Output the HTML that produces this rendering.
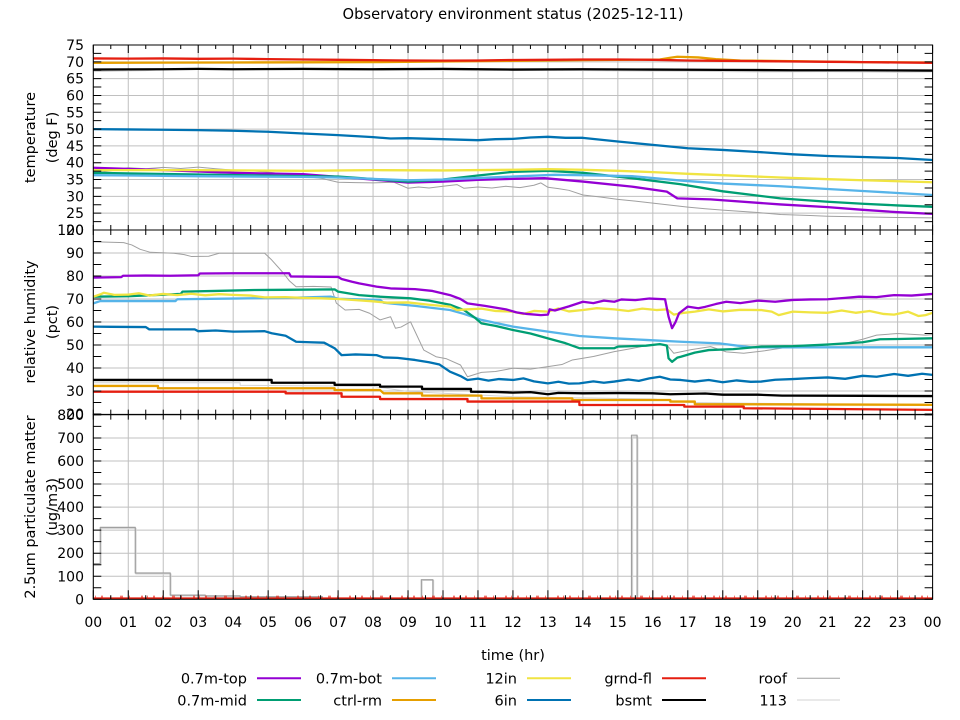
<!DOCTYPE html>
<html><head><meta charset="utf-8"><style>
html,body{margin:0;padding:0;background:#fff;}
svg{display:block;font-family:"DejaVu Sans","Liberation Sans",sans-serif;}
.s{fill:none;vector-effect:non-scaling-stroke;stroke-linejoin:round;stroke-width:2.3;}
.t{font-size:14px;fill:#000;}
.l{font-size:14.5px;fill:#000;}
</style></head><body>
<svg width="960" height="720" viewBox="0 0 960 720" xmlns="http://www.w3.org/2000/svg">
<rect width="960" height="720" fill="#fff"/>
<defs>
<clipPath id="c1"><rect x="93.3" y="45" width="839.3" height="185"/></clipPath>
<clipPath id="c2"><rect x="93.3" y="230" width="839.3" height="184.6"/></clipPath>
<clipPath id="c3"><rect x="93.3" y="414.6" width="839.3" height="184.7"/></clipPath>
</defs>

<!-- grid -->
<line x1="92.8" y1="322.15" x2="933.2" y2="322.15" stroke="#c0c0c0" stroke-width="554.3" stroke-dasharray="1 33.97"/>
<line x1="512.94" y1="44.5" x2="512.94" y2="230.6" stroke="#c0c0c0" stroke-width="839.3" stroke-dasharray="1 15.818"/>
<line x1="512.94" y1="229.5" x2="512.94" y2="414.6" stroke="#c0c0c0" stroke-width="839.3" stroke-dasharray="1 22"/>
<line x1="512.94" y1="414.4" x2="512.94" y2="599.9" stroke="#c0c0c0" stroke-width="839.3" stroke-dasharray="1 22.05"/>

<!-- temperature -->
<g clip-path="url(#c1)"><g transform="matrix(34.97 0 0 -3.3636 93.3 297.27)">
<polyline class="s" stroke="#d3d3d3" style="stroke-width:1" points="0,67.1 1.5,67.4 2.5,68 3.5,67.9 5,67.7 7,67.5 9,67.6 11,67.4 13,67.5 15,67.3 17,67.2 19,67 21,67.1 23,66.9 24,67"/>
<polyline class="s" stroke="#000" points="0,67.7 2,67.8 3,67.9 4,67.8 6,67.9 8,67.8 10,67.9 12,67.7 14,67.8 16,67.7 18,67.6 20,67.5 22,67.5 24,67.4"/>
<polyline class="s" stroke="#e69f00" points="0,69.7 2,69.75 4,69.8 6,69.85 8,69.9 10,70.1 12,70.3 14,70.5 16.2,70.7 16.5,71.2 16.7,71.5 17.3,71.3 17.8,70.8 18.5,70.4 20,70.2 22,69.9 24,69.8"/>
<polyline class="s" stroke="#e51e10" points="0,71 1,70.95 2,71 3,70.9 4,70.95 5,70.8 6,70.7 7,70.6 8,70.5 9,70.4 10,70.35 11,70.4 12,70.55 13,70.6 14,70.7 15,70.7 16,70.6 17,70.4 18,70.3 19,70.2 20,70.1 21,70 22,69.9 23,69.8 24,69.7"/>
<polyline class="s" stroke="#0072b2" points="0,50 1,49.9 2,49.8 3,49.7 4,49.5 5,49.2 6,48.7 7,48.2 8,47.6 8.5,47.2 9,47.3 10,47 11,46.7 11.5,47 12,47.1 12.5,47.5 13,47.7 13.5,47.4 14,47.4 15,46.3 16,45.3 17,44.3 18,43.8 19,43.2 20,42.5 21,42 22,41.7 23,41.4 23.5,41.1 24,40.8"/>
<polyline class="s" stroke="#a0a0a0" style="stroke-width:1" points="0,37 0.5,37.6 1,38.5 1.5,38.2 2,38.6 2.5,38.3 3,38.7 3.5,38.2 4,37.8 4.5,37.6 5,37.2 5.5,36.6 5.9,36.1 6.5,35.4 7,34.2 7.5,34.1 8,34 8.6,34.2 9,32.4 9.3,32.8 9.6,32.5 10,33 10.4,33.5 10.6,32.4 11,32.8 11.4,32.5 11.8,33 12.2,32.6 12.6,33.3 12.8,34 13,32.7 13.3,32.3 13.6,31.8 14,30.4 14.5,29.8 15,29.1 15.5,28.6 16,28 16.5,27.4 17,26.8 17.5,26.3 18,25.9 19,25.2 19.65,24.6 20.5,24.3 21,24.1 22,23.9 23,23.7 24,23.6"/>
<polyline class="s" stroke="#9400d3" points="0,38.5 2,37.8 4,37 6,36.6 7,35.8 8,35 9,34.1 10,34.4 11,34.9 12,35.2 12.9,35.4 14,34.4 15.4,32.9 16.4,31.4 16.7,29.4 17.65,29.1 19.65,27.6 21,26.8 22,26 23,25.3 24,24.8"/>
<polyline class="s" stroke="#009e73" points="0,37 3,36.5 6,36 7,35.9 9,34.4 10,35 11,36.2 12,37.3 13,37.6 14,37 15.4,35.4 16.8,33.6 18,31.5 19.65,29.4 21,28.4 22,27.8 23,27.3 24,26.9"/>
<polyline class="s" stroke="#56b4e9" points="0,36.3 3,36 6,35.8 7,35.6 9,34.8 10,35 12,35.9 13.2,36.4 14,36.3 15.4,36 16.8,34.7 18,33.8 19.65,33 21,32.2 22,31.6 23,31 24,30.4"/>
<polyline class="s" stroke="#f0e442" points="0,37.8 3,37.8 6,37.6 8,37.8 10,37.7 12,37.9 13,38.1 14,37.9 15,37.6 16,37.2 17,36.7 18,36.3 19.65,35.6 21,35.1 22,34.8 24,34.2"/>
</g></g>

<!-- humidity -->
<g clip-path="url(#c2)"><g transform="matrix(34.97 0 0 -2.3 93.3 460)">
<polyline class="s" stroke="#a0a0a0" style="stroke-width:1" points="0,94.9 0.87,94.5 1.1,93.5 1.34,91.6 1.63,90.3 2.3,89.9 2.6,89.3 2.8,88.5 3.3,88.6 3.6,89.9 4.9,89.9 5.1,87 5.4,81.9 5.6,78 5.8,75.3 6.3,75.5 6.8,75.2 6.95,68.2 7.2,65.2 7.6,65.5 7.9,63.8 8.2,60.9 8.5,62.3 8.64,57.3 8.8,57.8 9.07,60.1 9.45,47.8 9.8,44.9 10.1,44 10.5,41.3 10.7,36.2 11.1,38.1 11.5,38.5 12,39.9 12.5,39.5 13,40.6 13.4,41.5 13.7,43.5 14.3,45 14.9,47.1 15.4,48.5 15.9,50 16.4,50 16.6,46.4 17.1,48 17.65,49.3 18.1,47 18.6,46.4 19.2,47.5 20.1,49.6 21.5,50.7 22,52.5 22.4,54.3 23,55 23.8,54.3 24,54.5"/>
<polyline class="s" stroke="#d3d3d3" style="stroke-width:1" points="0,33.6 4.2,33.6 4.2,32.5 8,32 9,29.8 10,29 12,27.5 14,27 16,26.5 17,25 20,24.5 24,23.8"/>
<polyline class="s" stroke="#000" points="0,34.8 5.1,34.8 5.1,33.6 6.9,33.6 6.9,32.7 8.2,32.7 8.2,31.9 9.4,31.9 9.4,30.9 10.8,30.9 10.8,29.7 11.5,29.6 12,29.3 12.5,29.5 13,28.6 13.3,29.2 14,29 15,29.1 16,29 16.5,28.6 17.5,28.9 18,28.4 19,28.4 19.7,28 20,28 22,27.9 24,27.8"/>
<polyline class="s" stroke="#e69f00" points="0,32.2 1.85,32.2 1.85,31.2 6.9,31.2 6.9,30.4 8.2,30.4 8.3,29 9.4,29 9.4,28 11.1,28 11.1,26.8 13.7,26.8 13.7,26.1 16.5,26.1 16.5,25.4 17.2,25.4 17.2,24.3 24,24"/>
<polyline class="s" stroke="#e51e10" points="0,29.7 5.5,29.7 5.5,29 7.1,29 7.1,27.5 8.2,27.5 8.2,26.5 10.7,26.5 10.7,25.4 13.9,25.4 13.9,23.9 16.9,23.9 16.9,23.2 18.6,23.2 18.6,22.5 24,21.8"/>
<polyline class="s" stroke="#0072b2" points="0,58 0.5,57.9 1.5,57.8 1.6,56.8 2.9,56.8 3.0,56 3.5,56.3 4.0,55.8 4.9,56 5.1,55.1 5.5,54 5.8,51.4 6.2,51.2 6.6,51 6.9,48.6 7.1,45.6 7.5,45.9 8.1,45.6 8.3,44.6 8.7,44.4 9.2,43.5 9.6,42.5 9.9,41.5 10.2,38.4 10.5,36.5 10.7,34.8 11,35.4 11.3,34.5 11.6,35.2 12,34.8 12.3,35.5 12.6,34.2 13,33.3 13.3,34 13.6,33.2 13.9,33.3 14.3,34.2 14.6,33.6 14.9,34.1 15.3,35 15.6,34.4 15.9,35.5 16.2,36.2 16.5,35 16.8,34.8 17.2,34.1 17.6,34.8 18,33.8 18.4,34.6 18.8,34 19.1,34.1 19.5,34.9 20,35.2 20.5,35.6 21,35.9 21.5,35.3 22,36.6 22.4,36.2 22.9,37.4 23.3,36.6 23.7,37.5 24,37"/>
<polyline class="s" stroke="#56b4e9" points="0,68.1 0.2,69.1 2.35,69.1 2.4,69.9 4,70.2 5.5,70.5 6.8,71 7,70.1 8.2,69.6 8.3,68.4 9.2,67 10.2,65.2 10.6,63.5 11.1,60.9 12,58 13,55.8 13.9,53.9 14.9,52.9 15.8,52.2 16.8,51.4 17.9,50.7 18.8,49 24,49"/>
<polyline class="s" stroke="#009e73" points="0,71 1,71.2 2.5,72.2 2.55,73.2 3.5,73.5 4.6,73.9 5.5,74 6.9,74.2 7.0,73.2 7.6,71.7 8.2,71 9.07,70.3 9.6,69.3 10.2,67.5 10.6,65.2 10.9,62 11.1,59.4 11.5,58.3 12,56.5 12.5,55 13,52.9 13.5,50.8 13.9,48.6 14.9,48.6 15,49.3 15.8,49.7 16.2,50.4 16.4,49.8 16.45,44.2 16.55,42.7 16.7,44.5 16.8,44.9 17.2,46.7 17.6,47.8 18.3,48.2 19.1,49.3 20,49.5 21,50.2 21.5,50.7 22,51.2 22.5,52.5 23,52.6 24,52.9"/>
<polyline class="s" stroke="#f0e442" points="0,71 0.2,72 0.3,72.7 0.6,71.8 1,71.9 1.3,72.5 1.6,71.5 2,72.2 2.4,71.7 2.8,72.3 3.2,71.6 3.6,72.1 4,71.8 4.5,71.5 4.9,70.7 5.5,70.8 6,70.5 6.5,70.3 7,70 7.5,69.5 8,69 8.4,68.4 9,68.5 9.6,67.5 10.2,66.7 10.4,65.2 10.6,65.4 11.1,65.8 11.5,64.8 12,64.5 12.3,63.5 12.6,64.8 13,64.5 13.3,65.9 13.6,64.6 14,65.2 14.4,66 14.9,65.5 15.3,64.8 15.7,65.8 16.1,65.2 16.4,65.5 16.6,63.2 16.9,64 17.2,64.5 17.6,65.5 18,64.6 18.5,65.3 19.1,65.2 19.4,64.5 19.6,63 20,64.5 20.5,64.2 21,64 21.4,65 21.8,64 22.2,64.8 22.6,63.5 22.9,63.2 23.3,64.5 23.6,62.6 23.8,63 24,64"/>
<polyline class="s" stroke="#9400d3" points="0,79.3 0.4,79.4 0.8,79.5 0.85,80.1 1.5,80.2 2.2,80.1 3.0,80.3 3.05,81.1 4,81.2 5.6,81.2 5.65,79.8 6.3,79.7 7.0,79.6 7.1,78.7 7.4,77.5 7.6,76.8 8.1,75.4 8.5,74.6 9.2,74.3 9.7,73.5 10.2,71.7 10.5,70 10.7,68.1 11.2,67 11.8,65.5 12.1,64.2 12.4,63.5 12.8,63 13,63.2 13.05,65.5 13.2,65 13.6,66.8 14,68.8 14.3,68.2 14.6,69.3 14.9,68.8 15.1,69.8 15.5,69.5 15.9,70.2 16.35,69.9 16.45,62.3 16.55,57.3 16.65,60 16.75,63.8 17,66.7 17.3,66 17.5,66.6 17.8,67.8 18.1,68.8 18.5,68.2 19,69.3 19.5,68.8 20,69.6 20.5,69.8 21,69.9 21.5,70.5 21.9,71 22.4,70.8 22.9,71.7 23.4,71.5 24,72.2"/>
</g></g>

<!-- PM -->
<g clip-path="url(#c3)">
<g transform="matrix(34.97 0 0 -0.2305 93.3 599.3)">
<polyline class="s" stroke="#d3d3d3" style="stroke-width:1.2" points="0,150 0.22,150 0.22,308 1.22,308 1.22,110 2.22,110 2.22,15 3.2,15 3.2,12 4.2,12 4.2,9 6.55,9 6.55,2 9.4,2 9.4,82 9.73,82 9.73,2 15.42,2 15.42,705 15.57,705 15.57,2 24,2"/>
<polyline class="s" stroke="#a0a0a0" style="stroke-width:1.2" points="0,155 0.2,155 0.2,312 1.2,312 1.2,114 2.2,114 2.2,18 3.2,18 3.2,15 4.2,15 4.2,11 6.55,11 6.55,2 9.38,2 9.38,85 9.71,85 9.71,2 15.39,2 15.39,712 15.55,712 15.55,2 24,2"/>
</g>
<line x1="93.3" y1="598.4" x2="933" y2="598.4" stroke="#e51e10" stroke-width="2"/>
<line x1="95" y1="596.6" x2="933" y2="596.6" stroke="#e51e10" stroke-opacity="0.6" stroke-width="2" stroke-dasharray="1 5 2 7 1 9 3 6 1 11 2 4"/>
</g>

<!-- borders -->
<g fill="none" stroke="#000" stroke-width="1">
<rect x="93.3" y="45" width="839.3" height="185"/>
<rect x="93.3" y="230" width="839.3" height="184.6"/>
<rect x="93.3" y="414.6" width="839.3" height="184.7"/>
</g>
<!-- x ticks -->
<g stroke="#000" fill="none">
<line x1="92.8" y1="49" x2="933.2" y2="49" stroke-width="8" stroke-dasharray="1 33.97"/>
<line x1="110.285" y1="47" x2="933.2" y2="47" stroke-width="4" stroke-dasharray="1 33.97"/>
<line x1="92.8" y1="230" x2="933.2" y2="230" stroke-width="10" stroke-dasharray="1 16.485"/>
<line x1="92.8" y1="414.6" x2="933.2" y2="414.6" stroke-width="10" stroke-dasharray="1 16.485"/>
<line x1="92.8" y1="594.8" x2="933.2" y2="594.8" stroke-width="9" stroke-dasharray="1 33.97"/>
<line x1="110.285" y1="597.3" x2="933.2" y2="597.3" stroke-width="4" stroke-dasharray="1 33.97"/>
<!-- y ticks -->
<line x1="97.3" y1="44.5" x2="97.3" y2="230.5" stroke-width="8" stroke-dasharray="1 7.409"/>
<line x1="928.6" y1="44.5" x2="928.6" y2="230.5" stroke-width="8" stroke-dasharray="1 7.409"/>
<line x1="97.3" y1="229.5" x2="97.3" y2="414.5" stroke-width="8" stroke-dasharray="1 10.5"/>
<line x1="928.6" y1="229.5" x2="928.6" y2="414.5" stroke-width="8" stroke-dasharray="1 10.5"/>
<line x1="97.3" y1="414.4" x2="97.3" y2="599.8" stroke-width="8" stroke-dasharray="1 10.525"/>
<line x1="928.6" y1="414.4" x2="928.6" y2="599.8" stroke-width="8" stroke-dasharray="1 10.525"/>
</g>

<!-- title -->
<text x="513" y="19" text-anchor="middle" font-size="15" textLength="341" lengthAdjust="spacingAndGlyphs" fill="#000">Observatory environment status (2025-12-11)</text>

<!-- y tick labels -->
<g class="t" text-anchor="end">
<text x="84" y="50">75</text><text x="84" y="66.8">70</text><text x="84" y="83.6">65</text><text x="84" y="100.5">60</text><text x="84" y="117.3">55</text><text x="84" y="134.1">50</text><text x="84" y="150.9">45</text><text x="84" y="167.7">40</text><text x="84" y="184.5">35</text><text x="84" y="201.4">30</text><text x="84" y="218.2">25</text><text x="84" y="235">20</text>
<text x="84" y="235">100</text><text x="84" y="258">90</text><text x="84" y="281">80</text><text x="84" y="304">70</text><text x="84" y="327">60</text><text x="84" y="350">50</text><text x="84" y="373">40</text><text x="84" y="396">30</text><text x="84" y="419">20</text>
<text x="84" y="419.9">800</text><text x="84" y="443">700</text><text x="84" y="466">600</text><text x="84" y="489">500</text><text x="84" y="512.1">400</text><text x="84" y="535.2">300</text><text x="84" y="558.2">200</text><text x="84" y="581.3">100</text><text x="84" y="604.3">0</text>
</g>

<!-- x tick labels -->
<g class="t" text-anchor="middle">
<text x="93.3" y="627">00</text><text x="128.27" y="627">01</text><text x="163.24" y="627">02</text><text x="198.21" y="627">03</text><text x="233.18" y="627">04</text><text x="268.15" y="627">05</text><text x="303.12" y="627">06</text><text x="338.09" y="627">07</text><text x="373.06" y="627">08</text><text x="408.03" y="627">09</text><text x="443" y="627">10</text><text x="477.97" y="627">11</text><text x="512.94" y="627">12</text><text x="547.91" y="627">13</text><text x="582.88" y="627">14</text><text x="617.85" y="627">15</text><text x="652.82" y="627">16</text><text x="687.79" y="627">17</text><text x="722.76" y="627">18</text><text x="757.73" y="627">19</text><text x="792.7" y="627">20</text><text x="827.67" y="627">21</text><text x="862.64" y="627">22</text><text x="897.61" y="627">23</text><text x="932.58" y="627">00</text>
</g>

<!-- axis titles -->
<g class="l" text-anchor="middle">
<text transform="translate(35,137.5) rotate(-90)">temperature</text>
<text transform="translate(57,137.5) rotate(-90)">(deg F)</text>
<text transform="translate(35,322) rotate(-90)">relative humidity</text>
<text transform="translate(57,322) rotate(-90)">(pct)</text>
<text transform="translate(35,507) rotate(-90)">2.5um particulate matter</text>
<text transform="translate(57,507) rotate(-90)">(ug/m3)</text>
<text x="513" y="660">time (hr)</text>
</g>

<!-- legend -->
<g class="l" text-anchor="end">
<text x="247" y="683.5">0.7m-top</text>
<text x="382" y="683.5">0.7m-bot</text>
<text x="517" y="683.5">12in</text>
<text x="652" y="683.5">grnd-fl</text>
<text x="787" y="683.5">roof</text>
<text x="247" y="705.5">0.7m-mid</text>
<text x="382" y="705.5">ctrl-rm</text>
<text x="517" y="705.5">6in</text>
<text x="652" y="705.5">bsmt</text>
<text x="787" y="705.5">113</text>
</g>
<g fill="none">
<line x1="257" y1="678.3" x2="301" y2="678.3" stroke="#9400d3" stroke-width="2"/>
<line x1="392" y1="678.3" x2="436" y2="678.3" stroke="#56b4e9" stroke-width="2"/>
<line x1="527" y1="678.3" x2="571" y2="678.3" stroke="#f0e442" stroke-width="2"/>
<line x1="662" y1="678.3" x2="706" y2="678.3" stroke="#e51e10" stroke-width="2"/>
<line x1="797" y1="678.3" x2="840" y2="678.3" stroke="#a0a0a0" stroke-width="1"/>
<line x1="257" y1="700" x2="301" y2="700" stroke="#009e73" stroke-width="2"/>
<line x1="392" y1="700" x2="436" y2="700" stroke="#e69f00" stroke-width="2"/>
<line x1="527" y1="700" x2="571" y2="700" stroke="#0072b2" stroke-width="2"/>
<line x1="662" y1="700" x2="706" y2="700" stroke="#000" stroke-width="2"/>
<line x1="797" y1="700" x2="840" y2="700" stroke="#d3d3d3" stroke-width="1"/>
</g>
</svg>
</body></html>
